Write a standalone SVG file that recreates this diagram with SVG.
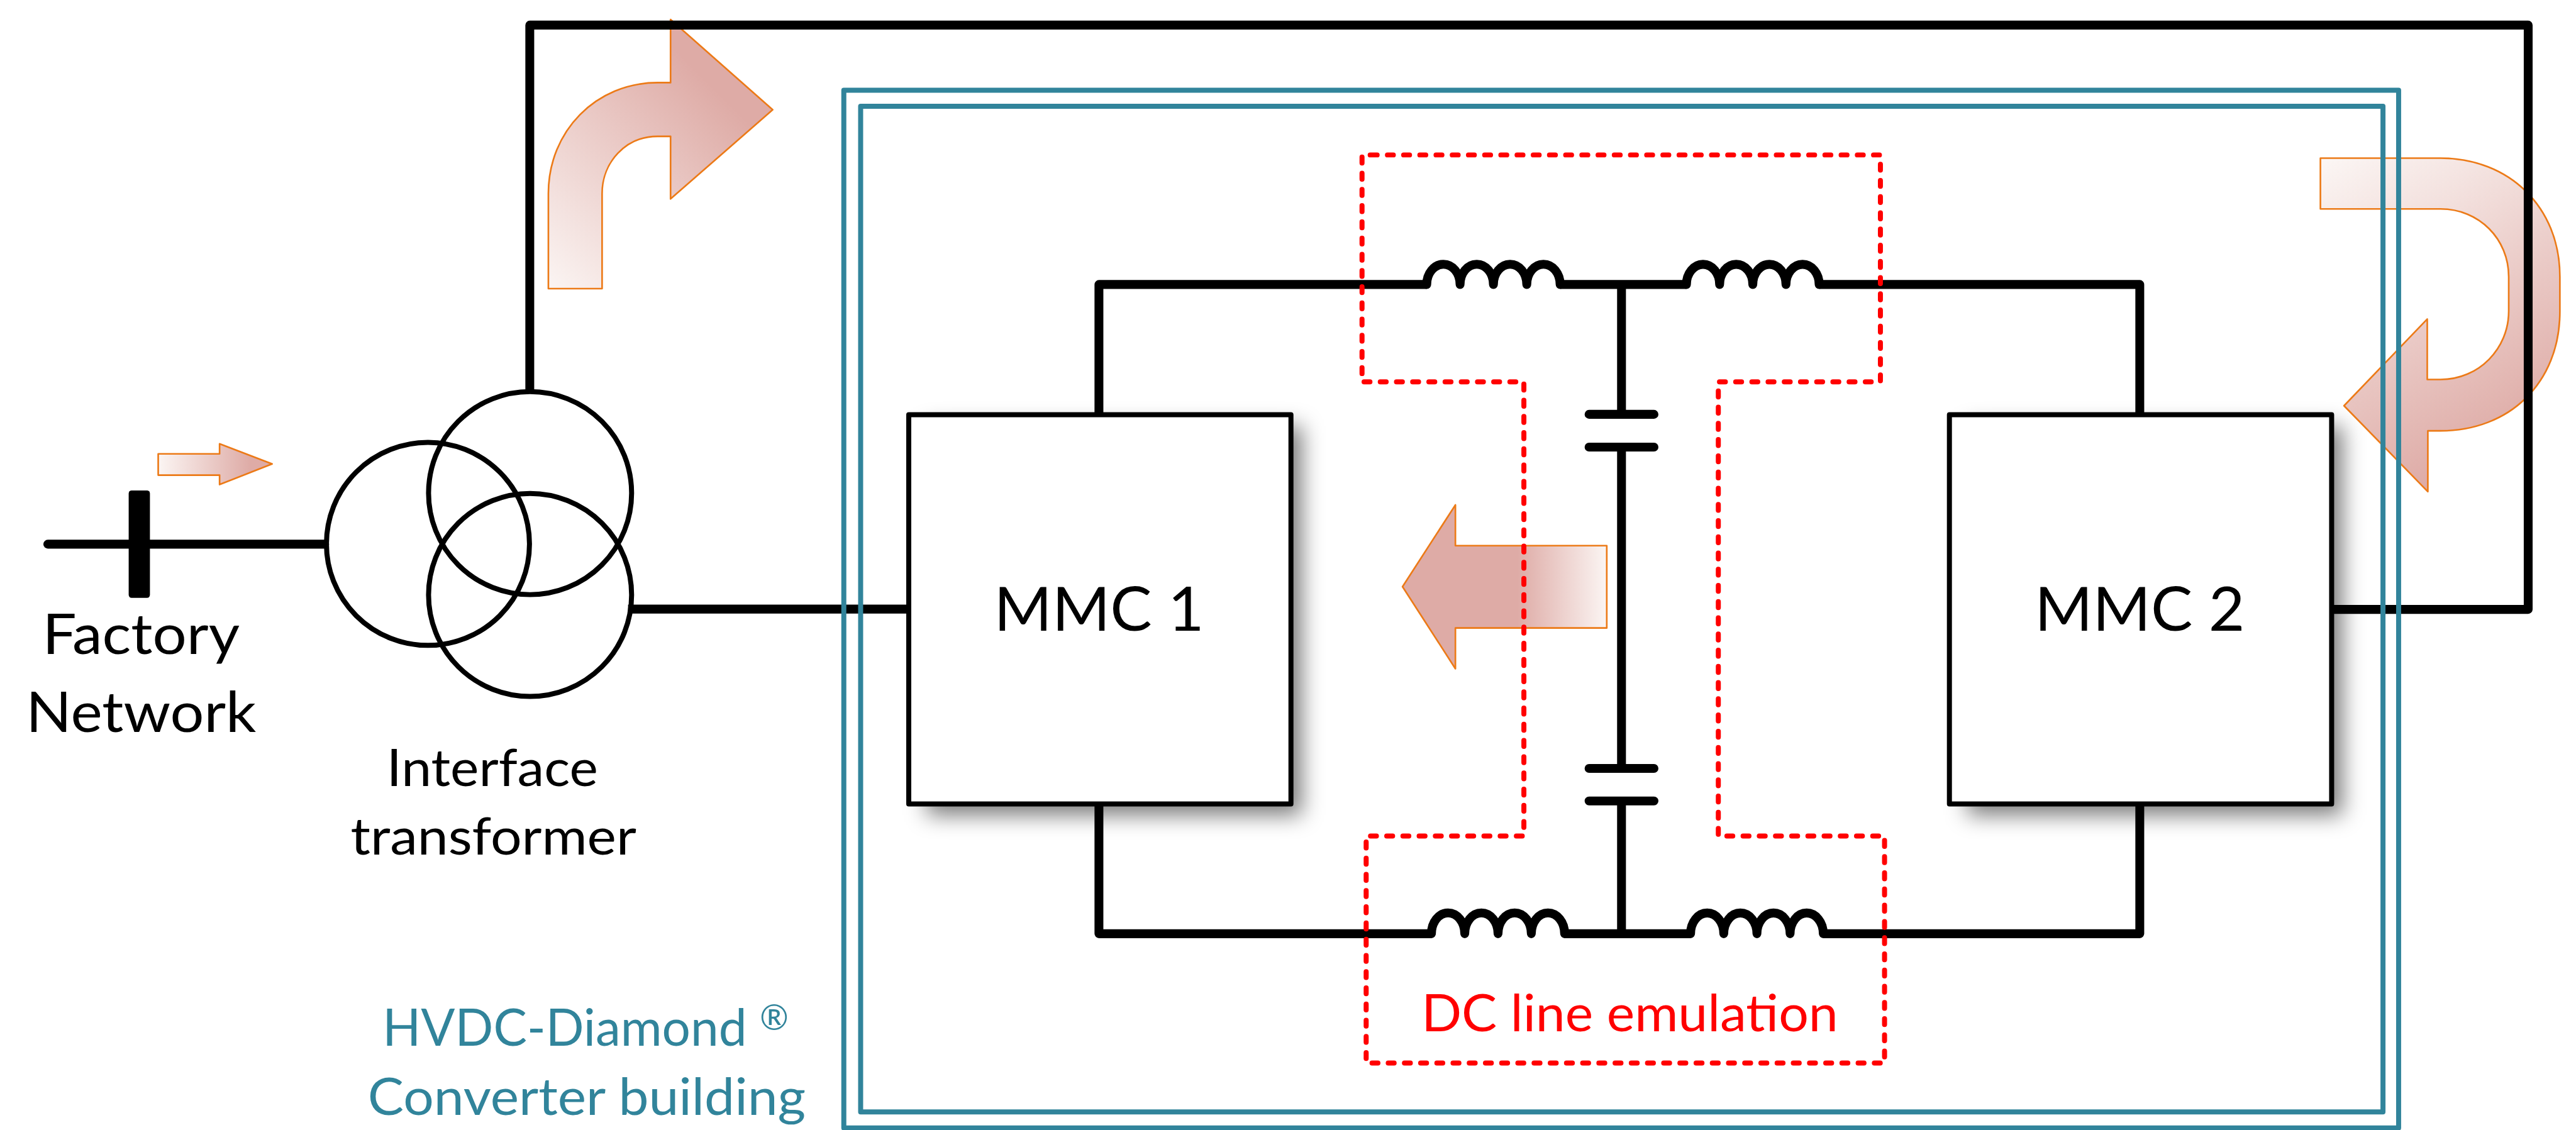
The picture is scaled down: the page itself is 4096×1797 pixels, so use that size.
<svg xmlns="http://www.w3.org/2000/svg" width="4096" height="1797" viewBox="0 0 4096 1797">
<style>
.w{fill:none;stroke:#000;stroke-width:15;stroke-linejoin:round;stroke-linecap:butt}
.p{fill:none;stroke:#000;stroke-width:15;stroke-linecap:round}
.l{fill:none;stroke:#000;stroke-width:15;stroke-linecap:round;stroke-linejoin:round}
.c{fill:none;stroke:#000;stroke-width:8.5}
.box{fill:#fff;stroke:#000;stroke-width:8.5;stroke-linejoin:round}
.sh{fill:#000;fill-opacity:.52;filter:url(#blur)}
.fr{fill:none;stroke:#31849b;stroke-width:8.5;stroke-linejoin:round}
.red{fill:none;stroke:#f00;stroke-width:8.5;stroke-linecap:round;stroke-linejoin:round;stroke-dasharray:10 17.45}
.ar{stroke:#ec7a17;stroke-width:2.8;stroke-linejoin:round}
text{font-family:Lato,"Liberation Sans",sans-serif;fill:#000}
.t{font-size:94px}
.s{font-size:87px}
.m{font-size:104px}
.b{fill:#31849b}
</style>
<defs>
<filter id="blur" x="-15%" y="-15%" width="130%" height="130%"><feGaussianBlur stdDeviation="18"/></filter>
<linearGradient id="g1" gradientUnits="userSpaceOnUse" x1="929" y1="489" x2="1240" y2="180"><stop offset="0" stop-color="#fbf5f3"/><stop offset="1" stop-color="#deaba6"/></linearGradient>
<linearGradient id="g2" gradientUnits="userSpaceOnUse" x1="3950" y1="270" x2="4230" y2="760"><stop offset="0" stop-color="#fbf5f3"/><stop offset="1" stop-color="#deaba6"/></linearGradient>
<linearGradient id="g3" gradientUnits="userSpaceOnUse" x1="268" y1="0" x2="425" y2="0"><stop offset="0" stop-color="#fbf5f3"/><stop offset="1" stop-color="#deaba6"/></linearGradient>
<linearGradient id="g4" gradientUnits="userSpaceOnUse" x1="2722" y1="0" x2="2570" y2="0"><stop offset="0" stop-color="#fbf5f3"/><stop offset="1" stop-color="#deaba6"/></linearGradient>
</defs>
<rect width="4096" height="1797" fill="#fff"/>
<g transform="scale(0.93859)">
<g id="mmc1">
<rect class="sh" x="1570" y="722" width="635" height="659"/>
<rect class="box" x="1539.5" y="702.7" width="647.5" height="659.5"/>
<text class="m" x="1684" y="1069" textLength="356" lengthAdjust="spacingAndGlyphs">MMC 1</text>
</g>
<g id="mmc2">
<rect class="sh" x="3333" y="722" width="635" height="659"/>
<rect class="box" x="3302.5" y="702.7" width="647.5" height="659.5"/>
<text class="m" x="3447" y="1069" textLength="356" lengthAdjust="spacingAndGlyphs">MMC 2</text>
</g>
<g id="flow-arrows">
<path class="ar" fill="url(#g1)" d="M929,489V328C929,222 1010,140 1114,140H1136V33L1309,186L1136,337V231H1114C1060,231 1020,275 1020,328V489Z"/>
<path class="ar" fill="url(#g2)" d="M3931,268H4134.5C4250,268 4336.7,350 4336.7,469V527.5C4336.7,650 4250,730 4134.5,730H4113V833L3971,687.5L4112,540.6V643H4134.5C4200,643 4250,590 4250,527.5V469C4250,405 4200,354 4134.5,354H3931Z"/>
<path class="ar" fill="url(#g3)" d="M268,769H372V752L461,786L372,821V805H268Z"/>
<path class="ar" fill="url(#g4)" d="M2376,994L2465.6,855.5V924.5H2722V1064H2465.6V1133Z"/>
</g>
<g id="connectors">
<path class="w" d="M897.5,660V42.5H4283V1032.5H3950"/>
<path class="l" d="M81,922H550"/>
<path class="w" d="M1064,1032H1539.5"/>
<path class="w" d="M1861.7,702.7V482H2417"/>
<path class="w" d="M2643,482H2857"/>
<path class="w" d="M3082,482H3625V702.7"/>
<path class="w" d="M1861.7,1362V1582H2425"/>
<path class="w" d="M2650,1582H2864"/>
<path class="w" d="M3089,1582H3625V1362"/>
<path class="w" d="M2747,482V702"/>
<path class="w" d="M2747,757V1302"/>
<path class="w" d="M2747,1357V1582"/>
</g>
<g id="inductor-top-1"><path class="l" d="M2417,482a28,34 0 0 1 56.5,0a28,34 0 0 1 56.5,0a28,34 0 0 1 56.5,0a28,34 0 0 1 56.5,0"/></g>
<g id="inductor-top-2"><path class="l" d="M2857,482a28,34 0 0 1 56.2,0a28,34 0 0 1 56.2,0a28,34 0 0 1 56.2,0a28,34 0 0 1 56.2,0"/></g>
<g id="inductor-bottom-1"><path class="l" d="M2425,1582a28,35 0 0 1 56.4,0a28,35 0 0 1 56.4,0a28,35 0 0 1 56.4,0a28,35 0 0 1 56.4,0"/></g>
<g id="inductor-bottom-2"><path class="l" d="M2864,1582a28,35 0 0 1 56.2,0a28,35 0 0 1 56.2,0a28,35 0 0 1 56.2,0a28,35 0 0 1 56.2,0"/></g>
<g id="capacitor-top"><path class="p" d="M2692,702H2802M2692,757.5H2802"/></g>
<g id="capacitor-bottom"><path class="p" d="M2692,1302H2802M2692,1357H2802"/></g>
<g id="factory-network">
<rect x="218" y="831" width="36" height="182" rx="5"/>
<text class="t" x="72" y="1108" textLength="334" lengthAdjust="spacingAndGlyphs">Factory</text>
<text class="t" x="44" y="1240" textLength="390" lengthAdjust="spacingAndGlyphs">Network</text>
</g>
<g id="interface-transformer">
<circle class="c" cx="725" cy="921.5" r="172"/>
<circle class="c" cx="898" cy="835.5" r="172"/>
<circle class="c" cx="898" cy="1008" r="172"/>
<text class="s" x="655" y="1332" textLength="358" lengthAdjust="spacingAndGlyphs">Interface</text>
<text class="s" x="594" y="1448" textLength="484" lengthAdjust="spacingAndGlyphs">transformer</text>
</g>
<g id="converter-building">
<rect class="fr" x="1429.5" y="153" width="2634" height="1758"/>
<rect class="fr" x="1458" y="180" width="2579" height="1704"/>
<text class="s b" x="648" y="1771.7" textLength="688" lengthAdjust="spacingAndGlyphs">HVDC-Diamond <tspan font-size="60" dy="-26">®</tspan></text>
<text class="s b" x="623" y="1889" textLength="742" lengthAdjust="spacingAndGlyphs">Converter building</text>
</g>
<g id="dc-line-emulation">
<path class="red" d="M2323,262.5H3185.6V647H2911V1416.6H3192.6V1801H2314.4V1416.6H2581.6V647H2307.4V262.5H2323"/>
<text class="s" style="fill:#f00" x="2408" y="1747" textLength="706" lengthAdjust="spacingAndGlyphs">DC line emulation</text>
</g>
</g>
</svg>
